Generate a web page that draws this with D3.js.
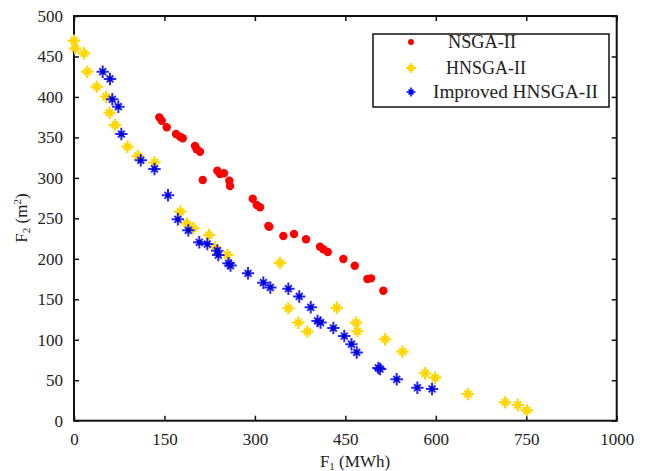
<!DOCTYPE html>
<html>
<head>
<meta charset="utf-8">
<script src="https://cdn.jsdelivr.net/npm/d3@7"></script>
<style>
  html, body { margin: 0; padding: 0; background: #fff; }
  svg { display: block; }
  text { font-family: "Liberation Serif", "DejaVu Serif", serif; fill: #222; }
</style>
</head>
<body>
<svg id="chart" width="649" height="471"></svg>
<script>
// ---- data (F1 on the drawn axis scale, F2 in m^2) ----
const nsgaX = [141.5,145.5,153.8,169.2,175.8,180.3,200.7,203.5,209.0,213.5,237.7,242.2,248.8,257.6,258.7,296.4,303.0,308.5,322.3,323.9,347.2,364.9,384.8,408.0,413.5,420.8,446.7,465.6,486.5,492.6,513.0];
const nsgaY = [374.8,370.6,362.5,354.2,350.9,348.9,339.4,335.3,332.3,297.4,308.9,304.8,305.7,296.5,290.0,274.3,266.5,263.7,240.5,239.7,228.2,230.7,224.1,215.0,211.8,208.4,199.8,191.5,175.1,175.9,160.6];

const hnsgaX = [0,1.7,16.6,22.1,37.7,53.1,58.9,68.0,88.7,105.8,133.5,176.3,187.4,197.9,223.9,233.9,254.3,341.7,355.4,372.0,387.0,435.7,467.7,469.9,515.8,544.8,582.2,598.8,653.0,714.9,735.9,750.9];
const hnsgaY = [469.5,460.1,453.9,431.2,412.7,400.3,380.5,365.3,338.5,327.0,319.0,258.2,243.4,237.7,229.4,214.2,204.7,195.0,138.9,121.1,110.0,139.5,121.1,110.5,100.6,85.3,58.6,53.1,33.0,22.7,19.4,12.8];

const impX = [47.6,59.7,63.5,73.5,78.5,110.8,133.5,155.9,172.2,189.6,207.8,221.1,237.7,239.3,256.3,259.6,288.6,314.0,325.6,355.5,373.5,392.6,403.9,408.9,430.1,448.2,460.1,468.9,504.7,507.6,535.2,569.4,593.8];
const impY = [431.2,422.2,397.1,387.9,354.2,321.7,311.0,278.5,248.8,235.2,220.4,218.3,210.0,204.7,194.5,191.7,182.1,170.5,164.6,163.1,153.5,140.1,123.2,121.3,114.5,104.6,94.5,84.3,65.2,63.9,51.2,40.8,39.2];

const xTickValues = [0,150,300,450,600,750,900];
const xTickLabels = ["0","150","300","450","600","750","1000"];
const yTickValues = [0,50,100,150,200,250,300,350,400,450,500];
const seriesNames = ["NSGA-II","HNSGA-II","Improved HNSGA-II"];
const seriesColors = ["#ff0000","#ffd700","#0000ff"];

// ---- layout ----
const svg = d3.select("#chart");
const L = 74, R = 616.7, T = 16, B = 420.7;
const x = d3.scaleLinear().domain([0, 900]).range([L, R]);
const y = d3.scaleLinear().domain([0, 500]).range([B, T]);

const tickLen = 5;
const xAxisB = d3.axisBottom(x).tickValues(xTickValues).tickSizeInner(-tickLen).tickSizeOuter(0)
  .tickPadding(12).tickFormat((d,i) => xTickLabels[i]);
const xAxisT = d3.axisTop(x).tickValues(xTickValues).tickSizeInner(-tickLen).tickSizeOuter(0).tickFormat("");
const yAxisL = d3.axisLeft(y).tickValues(yTickValues).tickSizeInner(-tickLen).tickSizeOuter(0).tickPadding(11);
const yAxisR = d3.axisRight(y).tickValues(yTickValues).tickSizeInner(-tickLen).tickSizeOuter(0).tickFormat("");

function styleAxis(g) {
  g.select(".domain").remove();
  g.selectAll(".tick line").attr("stroke", "#111").attr("stroke-width", 1.5);
  g.selectAll(".tick text").style("font-family", '"Liberation Serif", serif').style("font-size", "17px").attr("fill", "#222");
}
svg.append("g").attr("transform", `translate(0,${B})`).call(xAxisB).call(styleAxis);
svg.append("g").attr("transform", `translate(0,${T})`).call(xAxisT).call(styleAxis);
svg.append("g").attr("transform", `translate(${L},0)`).call(yAxisL).call(styleAxis);
svg.append("g").attr("transform", `translate(${R},0)`).call(yAxisR).call(styleAxis);

// frame
svg.append("rect").attr("x", L).attr("y", T).attr("width", R - L).attr("height", B - T)
  .attr("fill", "none").attr("stroke", "#111").attr("stroke-width", 2);

// star glyph
function starPath(s) {
  const a = s, d = s * 0.55;
  return `M${-a},0L${a},0M0,${-a}L0,${a}M${-d},${-d}L${d},${d}M${-d},${d}L${d},${-d}`;
}

const red = d3.zip(nsgaX, nsgaY);
const yel = d3.zip(hnsgaX, hnsgaY);
const blu = d3.zip(impX, impY);

svg.append("g").selectAll("circle").data(red).join("circle")
  .attr("cx", d => x(d[0])).attr("cy", d => y(d[1])).attr("r", 4.2)
  .attr("fill", seriesColors[0]);

svg.append("g").selectAll("path").data(yel).join("path")
  .attr("transform", d => `translate(${x(d[0])},${y(d[1])})`)
  .attr("d", starPath(6.2)).attr("stroke", seriesColors[1]).attr("stroke-width", 2.2)
  .attr("fill", "none");

const bg = svg.append("g").selectAll("g").data(blu).join("g")
  .attr("transform", d => `translate(${x(d[0])},${y(d[1])})`);
bg.append("path").attr("d", starPath(6.2)).attr("stroke", seriesColors[2]).attr("stroke-width", 2)
  .attr("stroke-opacity", 0.85).attr("fill", "none");
bg.append("circle").attr("r", 2.4).attr("fill", "#0000cc");

// legend
const lg = svg.append("g");
lg.append("rect").attr("x", 373).attr("y", 34).attr("width", 236).attr("height", 73)
  .attr("fill", "#fff").attr("stroke", "#111").attr("stroke-width", 1.5);
const legY = [42, 68, 92];
const legTextX = [448, 446, 433];
const legTextW = [68, 80, 165];
lg.append("circle").attr("cx", 411).attr("cy", legY[0]).attr("r", 3).attr("fill", seriesColors[0]);
lg.append("path").attr("transform", `translate(411,${legY[1]})`).attr("d", starPath(5))
  .attr("stroke", seriesColors[1]).attr("stroke-width", 1.8).attr("fill", "none");
lg.append("path").attr("transform", `translate(411,${legY[2]})`).attr("d", starPath(4.5))
  .attr("stroke", seriesColors[2]).attr("stroke-width", 1.6).attr("fill", "none");
seriesNames.forEach((n, i) => {
  lg.append("text").attr("x", legTextX[i]).attr("y", legY[i] + 6)
    .attr("textLength", legTextW[i]).attr("lengthAdjust", "spacingAndGlyphs")
    .style("font-size", "18px").text(n);
});

// axis titles
const xt = svg.append("text").attr("x", 355).attr("y", 467).attr("text-anchor", "middle").style("font-size", "17px");
xt.append("tspan").text("F");
xt.append("tspan").attr("dy", 3).style("font-size", "11px").text("1");
xt.append("tspan").attr("dy", -3).text(" (MWh)");

const yt = svg.append("text").attr("transform", "translate(27,218) rotate(-90)").attr("text-anchor", "middle").style("font-size", "17px");
yt.append("tspan").text("F");
yt.append("tspan").attr("dy", 3).style("font-size", "11px").text("2");
yt.append("tspan").attr("dy", -3).text(" (m");
yt.append("tspan").attr("dy", -6).style("font-size", "11px").text("2");
yt.append("tspan").attr("dy", 6).text(")");
</script>
</body>
</html>
